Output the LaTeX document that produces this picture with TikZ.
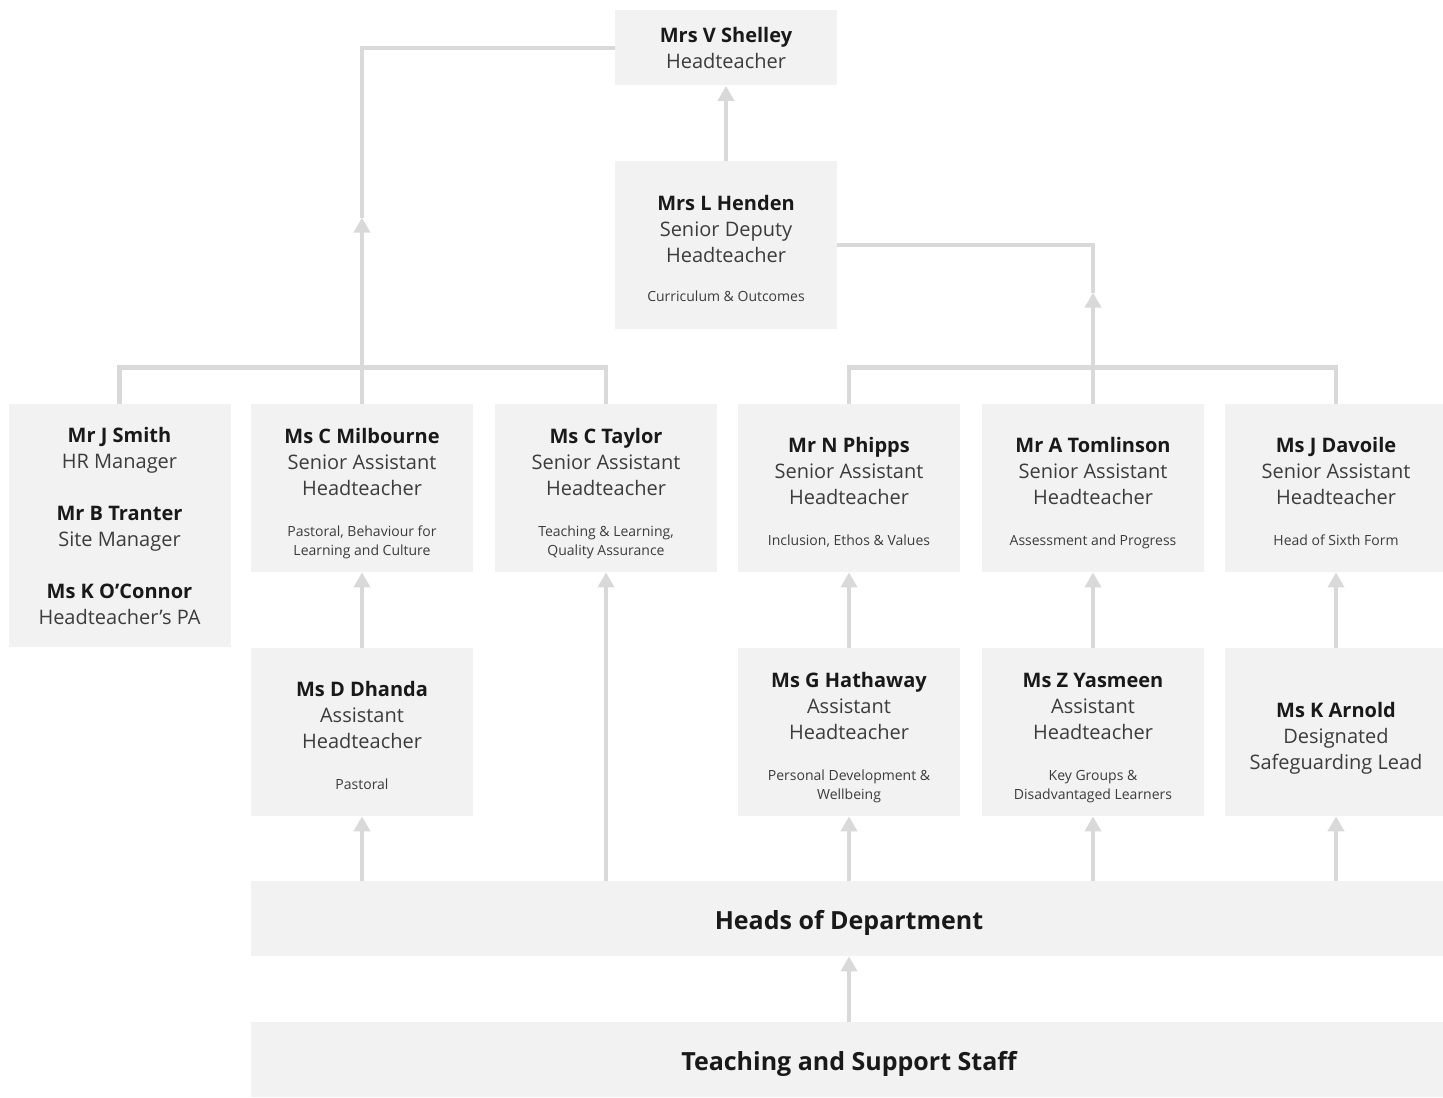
\documentclass[tikz,border=0pt]{standalone}
\usepackage{fontspec}
\setmainfont{Open Sans}
\usetikzlibrary{arrows.meta, positioning}

\definecolor{boxgrey}{HTML}{F2F2F2}
\definecolor{linkgrey}{HTML}{D9D9D9}
\definecolor{rolegrey}{HTML}{3C3C3C}

\newcommand{\nm}[1]{{\color{black!90}\bfseries #1}}
\newcommand{\who}[1]{\rule{0pt}{14pt}\nm{#1}}
\newcommand{\remit}[1]{{\fontsize{7}{9.5}\selectfont\begin{tabular}[t]{@{}c@{}}#1\end{tabular}}}

\begin{document}
\begin{tikzpicture}[x=0.5pt, y=-0.5pt,
    post/.style={fill=boxgrey, minimum width=111pt, minimum height=84pt, inner sep=0pt,
                 align=center, text=rolegrey, font=\fontsize{10}{13}\selectfont},
    wide/.style={fill=boxgrey, minimum width=598pt, minimum height=37.5pt, inner sep=0pt,
                 text height=12pt, text depth=1pt,
                 text=black!90, font=\fontsize{12.5}{15}\selectfont\bfseries},
    link/.style={draw=linkgrey, line width=2.2pt},
    up/.style={link, -{Triangle[length=7.5pt, width=8pt]}}]
            \clip (0,0) rectangle (1443,1097);
            \fill[white] (0,0) rectangle (1443,1097);

            % Head and deputy
            \node[post, minimum height=37.5pt] (shelley) at (726,48) {\nm{Mrs V Shelley}\\Headteacher};
            \node[post] (henden) at (726,245) {\who{Mrs L Henden}\\Senior Deputy\\Headteacher\\[6.5pt]\remit{Curriculum \& Outcomes}};

            % Senior team
            \node[post, minimum height=121.5pt] (office) at (119.5,525.5) {\nm{Mr J Smith}\\HR Manager\\[13pt]\nm{Mr B Tranter}\\Site Manager\\[13pt]\nm{Ms K O'Connor}\\Headteacher's PA};
            \node[post] (milbourne) at (362,488) {\who{Ms C Milbourne}\\Senior Assistant\\Headteacher\\[7.5pt]\remit{Pastoral, Behaviour for\\Learning and Culture}};
            \node[post] (taylor) at (606,488) {\who{Ms C Taylor}\\Senior Assistant\\Headteacher\\[7.5pt]\remit{Teaching \& Learning,\\Quality Assurance}};
            \node[post] (phipps) at (849,488) {\who{Mr N Phipps}\\Senior Assistant\\Headteacher\\[7.5pt]\remit{Inclusion, Ethos \& Values}};
            \node[post] (tomlinson) at (1093,488) {\who{Mr A Tomlinson}\\Senior Assistant\\Headteacher\\[7.5pt]\remit{Assessment and Progress}};
            \node[post] (davoile) at (1336,488) {\who{Ms J Davoile}\\Senior Assistant\\Headteacher\\[7.5pt]\remit{Head of Sixth Form}};

            % Assistant heads
            \node[post] (dhanda) at (362,732) {\who{Ms D Dhanda}\\Assistant\\Headteacher\\[7.5pt]\remit{Pastoral}};
            \node[post] (hathaway) at (849,732) {\who{Ms G Hathaway}\\Assistant\\Headteacher\\[7.5pt]\remit{Personal Development \&\\Wellbeing}};
            \node[post] (yasmeen) at (1093,732) {\who{Ms Z Yasmeen}\\Assistant\\Headteacher\\[7.5pt]\remit{Key Groups \&\\Disadvantaged Learners}};
            \node[post] (arnold) at (1336,732) {\who{Ms K Arnold}\\Designated\\Safeguarding Lead};

            % Staff bands
            \node[wide] (hod) at (849,918.5) {Heads of Department};
            \node[wide] (staff) at (849,1059.5) {Teaching and Support Staff};

            % Links to the head
            \draw[link] (office.north) -- ++(0,-36) -| (taylor.north);
            \draw[up] (milbourne.north) -- ++(0,-186);
            \draw[link] (milbourne.north) ++(0,-186) |- (shelley.west);
            \draw[up] (henden) -- (shelley);

            % Links to the deputy
            \draw[link] (phipps.north) -- ++(0,-36) -| (davoile.north);
            \draw[up] (tomlinson.north) -- ++(0,-111);
            \draw[link] (tomlinson.north) ++(0,-111) |- (henden.east);

            % Assistant heads upwards
            \draw[up] (dhanda) -- (milbourne);
            \draw[up] (hathaway) -- (phipps);
            \draw[up] (yasmeen) -- (tomlinson);
            \draw[up] (arnold) -- (davoile);

            % Heads of department upwards
            \draw[up] (hod.north -| dhanda) -- (dhanda);
            \draw[up] (hod.north -| taylor) -- (taylor);
            \draw[up] (hod.north -| hathaway) -- (hathaway);
            \draw[up] (hod.north -| yasmeen) -- (yasmeen);
            \draw[up] (hod.north -| arnold) -- (arnold);
            \draw[up] (staff) -- (hod);
\end{tikzpicture}
\end{document}
